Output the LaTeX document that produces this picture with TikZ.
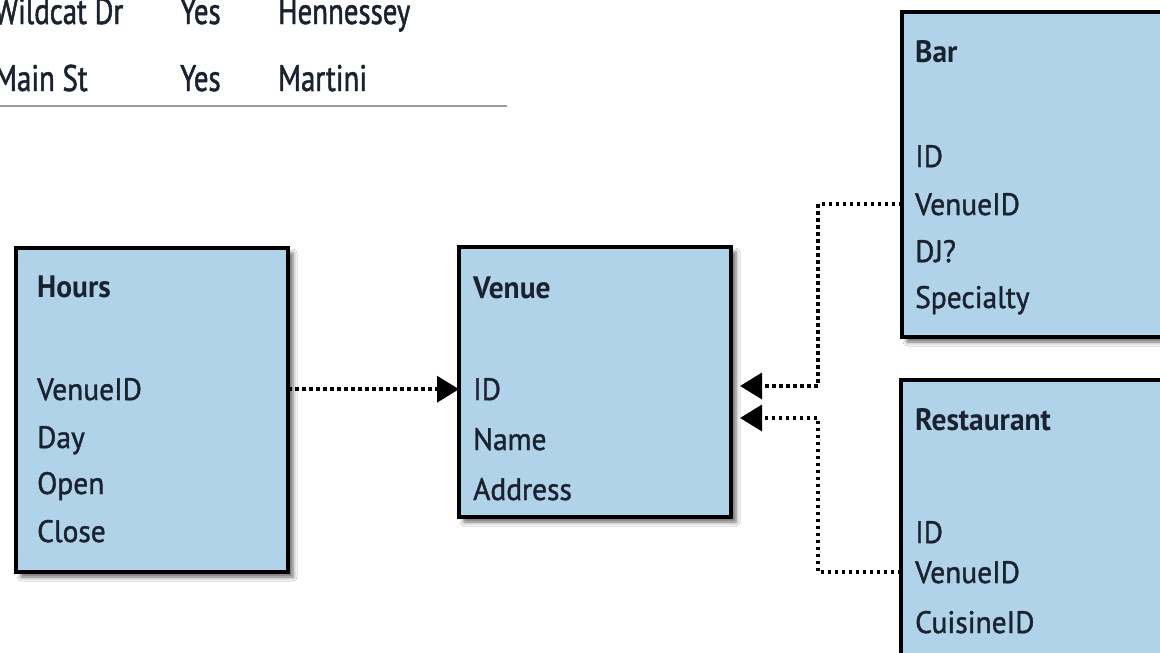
\documentclass[tikz,border=0pt]{standalone}
\usepackage{fontspec}
\setmainfont{PT Sans}[FakeStretch=0.95]
\newfontfamily\fieldfont{PT Sans}[FakeStretch=0.95, FakeBold=1.3]
\newfontfamily\cellfont{PT Sans}[FakeStretch=0.78, FakeBold=1.3]
\usetikzlibrary{arrows.meta,shadows.blur}
\definecolor{boxfill}{HTML}{B1D3E9}
\definecolor{ink}{HTML}{1A2230}
\definecolor{rule}{HTML}{9A9A9A}

\begin{document}
\begin{tikzpicture}[x=1pt,y=-1pt,
  tablebox/.style={draw=black, line width=3.5pt, fill=boxfill, anchor=north west,
    inner sep=0pt, outer sep=0pt,
    blur shadow={shadow xshift=5pt, shadow yshift=-5pt, shadow blur radius=4pt, shadow opacity=60}},
  title/.style={anchor=base west, inner sep=0pt, text=ink,
    font=\fontsize{31}{31}\selectfont\bfseries},
  field/.style={anchor=base west, inner sep=0pt, text=ink,
    font=\fontsize{31}{31}\fieldfont},
  cell/.style={anchor=base west, inner sep=0pt, text=ink,
    font=\fontsize{37}{37}\cellfont},
  link/.style={draw=black, line width=3.5pt, dash pattern=on 3.5pt off 3.5pt,
    -{Triangle[length=22pt,width=26pt]}}
]
\useasboundingbox (0,0) rectangle (1160,653);
\clip (0,0) rectangle (1160,653);
\fill[white] (0,0) rectangle (1160,653);

% tail of the venue listing above
\node[cell] (c11) at (-6,24) {Wildcat Dr};
\node[cell] (c12) at (180,24) {Yes};
\node[cell] (c13) at (278,24) {Hennessey};
\node[cell] (c21) at (-6,91) {Main St};
\node[cell] (c22) at (180,91) {Yes};
\node[cell] (c23) at (278,91) {Martini};
\draw[rule, line width=2pt] (0,106) -- (507,106);

% tables
\node[tablebox, minimum width=272pt, minimum height=324pt] (hours) at (16,248) {};
\node[tablebox, minimum width=272pt, minimum height=270pt] (venue) at (459,247) {};
\node[tablebox, minimum width=275pt, minimum height=325pt] (bar) at (902,12) {};
\node[tablebox, minimum width=275pt, minimum height=330pt] (restaurant) at (901,380) {};

% Hours
\node[title] (hT) at (37,297) {Hours};
\node[field] (hVenueID) at (37,400) {VenueID};
\node[field] (hDay) at (37,448) {Day};
\node[field] (hOpen) at (37,494) {Open};
\node[field] (hClose) at (37,542) {Close};

% Venue
\node[title] (vT) at (473,298) {Venue};
\node[field] (vID) at (473,400) {ID};
\node[field] (vName) at (473,450) {Name};
\node[field] (vAddress) at (473,500) {Address};

% Bar
\node[title] (bT) at (915,62) {Bar};
\node[field] (bID) at (915,167) {ID};
\node[field] (bVenueID) at (915,215) {VenueID};
\node[field] (bDJ) at (915,262) {DJ?};
\node[field] (bSpecialty) at (915,308) {Specialty};

% Restaurant
\node[title] (rT) at (915,430) {Restaurant};
\node[field] (rID) at (915,543) {ID};
\node[field] (rVenueID) at (915,583) {VenueID};
\node[field] (rCuisineID) at (915,633) {CuisineID};

% references
\coordinate (jb) at (818,386);
\coordinate (jr) at (818,418);
\draw[link] (hours.east |- hVenueID) -- (venue.west |- hVenueID);
\draw[link, shorten >=9pt] (bar.west |- bVenueID) -| (jb) -- (venue.east |- jb);
\draw[link, shorten >=9pt] (restaurant.west |- rVenueID) -| (jr) -- (venue.east |- jr);
\end{tikzpicture}
\end{document}
